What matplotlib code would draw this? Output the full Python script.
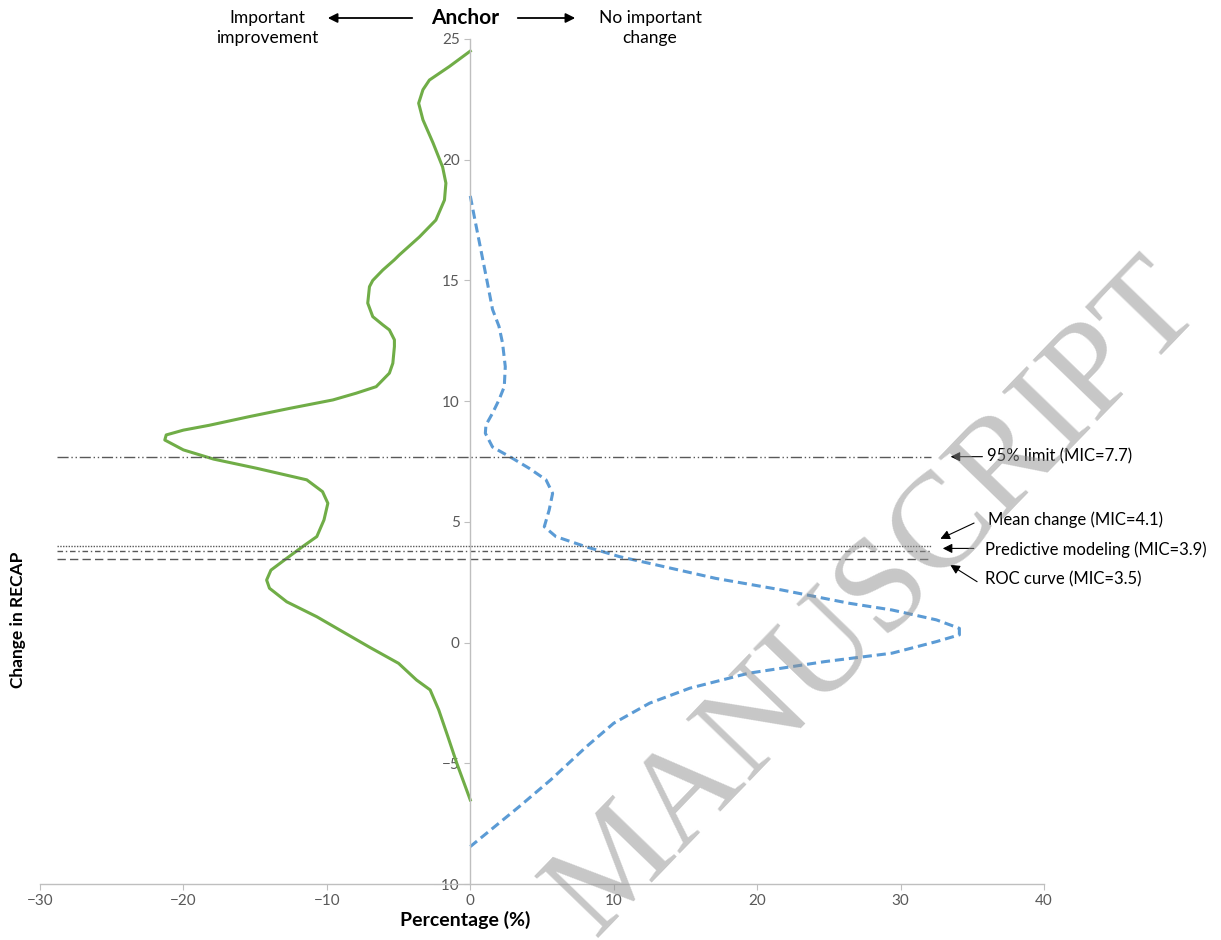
import matplotlib
matplotlib.use('Agg')
import matplotlib.pyplot as plt

plt.rcParams['font.family'] = ['Lato', 'DejaVu Sans']

# 曲线数据 (x = 百分比, y = RECAP 变化)
green_x = [0, -1.46, -2.85, -3.3, -3.6, -3.3, -2.6, -1.93, -1.7, -1.8, -2.4, -3.55, -4.94,
           -5.3, -6.1, -6.8, -7.03, -7.15, -6.8, -6.1, -5.64, -5.29, -5.29, -5.4, -5.64, -6.56,
           -7.95, -9.58, -12.6, -15.4, -18.2, -20.0, -21.2, -21.3, -20.0, -17.9, -14.9, -11.4,
           -10.3, -9.93, -10.2, -10.7, -11.7, -12.8, -13.9, -14.2, -14.0, -12.8, -10.7, -9.1,
           -7.0, -5.0, -3.75, -2.8, -2.2, -1.56, -0.94, 0]
green_y = [24.5, 23.86, 23.3, 22.9, 22.34, 21.65, 20.7, 19.7, 19.03, 18.33, 17.5, 16.8, 16.06,
           15.85, 15.43, 15.0, 14.74, 14.06, 13.5, 13.16, 12.95, 12.54, 12.26, 11.57, 11.16, 10.6,
           10.33, 10.05, 9.7, 9.36, 9.0, 8.8, 8.6, 8.39, 7.98, 7.6, 7.22, 6.74,
           6.25, 5.77, 5.08, 4.39, 3.97, 3.49, 3.0, 2.59, 2.25, 1.69, 1.07, 0.52,
           -0.2, -0.86, -1.55, -1.96, -2.79, -3.9, -5.0, -6.52]

blue_x = [0, 0.28, 0.74, 1.2, 1.55, 2.0, 2.25, 2.44, 2.37, 2.0, 1.55, 1.09, 1.05, 1.55, 2.95,
          4.1, 5.28, 5.74, 5.5, 5.16, 5.97, 8.06, 10.4, 12.5, 17.1, 21.7, 26.4, 29.4, 32.5,
          34.1, 34.1, 32.5, 29.4, 24.7, 19.4, 15.3, 12.5, 10.0, 8.1, 5.6, 3.4, 0]
blue_y = [18.5, 17.64, 16.26, 14.88, 13.8, 13.1, 12.4, 11.43, 10.6, 10.05, 9.5, 9.01, 8.67, 8.1, 7.63,
          7.22, 6.74, 6.18, 5.49, 4.8, 4.39, 3.97, 3.56, 3.28, 2.66, 2.18, 1.63, 1.35, 0.94,
          0.59, 0.32, 0.04, -0.44, -0.79, -1.27, -1.89, -2.51, -3.34, -4.31, -5.69, -6.8, -8.45]

# MIC 参考线
mic_labels = ['95% limit (MIC=7.7)', 'Mean change (MIC=4.1)',
              'Predictive modeling (MIC=3.9)', 'ROC curve (MIC=3.5)']
mic_y = [7.7, 4.0, 3.78, 3.45]
mic_styles = [(0, (8, 2, 1, 2, 1, 2)), (0, (1, 1)), (0, (4, 2, 1, 2)), (0, (6, 3))]
mic_text_y = [7.7, 5.08, 3.84, 2.6]
mic_text_x = [36.0, 36.1, 35.9, 35.9]
mic_arrow_tail = [(35.9, 7.7), (35.3, 5.0), (35.3, 3.9), (35.5, 2.46)]
mic_arrow_head = [(33.3, 7.7), (32.6, 4.25), (32.75, 3.9), (33.3, 3.28)]

fig = plt.figure(figsize=(12.21, 9.40), dpi=100)
ax = fig.add_axes([40 / 1221, 1 - 884 / 940, (1044 - 40) / 1221, (884 - 39) / 940])

ax.plot(green_x, green_y, color='#70AD47', lw=2.2, solid_joinstyle='round')
ax.plot(blue_x, blue_y, color='#5B9BD5', lw=2.2, linestyle=(0, (3, 1.6)))

for y, ls in zip(mic_y, mic_styles):
    ax.plot([-28.8, 32.1], [y, y], color='#595959', lw=1.0, linestyle=ls)

for lab, tx, ty, tail, head in zip(mic_labels, mic_text_x, mic_text_y, mic_arrow_tail, mic_arrow_head):
    ax.text(tx, ty, lab, fontsize=12, va='center', ha='left', color='black', clip_on=False)
    ax.annotate('', xy=head, xytext=tail, annotation_clip=False,
                arrowprops=dict(arrowstyle='-|>', color='black', lw=0.8, mutation_scale=14))

ax.set_xlim(-30, 40)
ax.set_ylim(-10, 25)
ax.set_xticks(range(-30, 41, 10))
ax.set_yticks(range(-10, 26, 5))

ax.spines['left'].set_position(('data', 0))
ax.spines['top'].set_visible(False)
ax.spines['right'].set_visible(False)
for s in ['left', 'bottom']:
    ax.spines[s].set_color('#BFBFBF')
    ax.spines[s].set_linewidth(1.0)
ax.tick_params(axis='both', colors='#BFBFBF', labelcolor='#595959', labelsize=11, length=4)

# 标题与轴标签
fig.text(465 / 1221, 1 - 920 / 940, 'Percentage (%)', fontsize=14, fontweight='bold',
         ha='center', va='center')
fig.text(18 / 1221, 1 - 620 / 940, 'Change in RECAP', fontsize=12.5, fontweight='bold',
         rotation=90, ha='center', va='center')
fig.text(465 / 1221, 1 - 18 / 940, 'Anchor', fontsize=15, fontweight='bold',
         ha='center', va='center')
fig.text(267 / 1221, 1 - 28 / 940, 'Important\nimprovement', fontsize=12.5,
         ha='center', va='center', linespacing=1.25)
fig.text(650 / 1221, 1 - 28 / 940, 'No important\nchange', fontsize=12.5,
         ha='center', va='center', linespacing=1.25)
ax.annotate('', xy=(325 / 1221, 1 - 18 / 940), xytext=(415 / 1221, 1 - 18 / 940),
            xycoords='figure fraction', textcoords='figure fraction',
            arrowprops=dict(arrowstyle='-|>', color='black', lw=1.3, mutation_scale=14))
ax.annotate('', xy=(578 / 1221, 1 - 18 / 940), xytext=(515 / 1221, 1 - 18 / 940),
            xycoords='figure fraction', textcoords='figure fraction',
            arrowprops=dict(arrowstyle='-|>', color='black', lw=1.3, mutation_scale=14))

# 水印（半透明）
fig.text(876 / 1221, 1 - 600 / 940, 'MANUSCRIPT', fontsize=98, family='Liberation Serif',
         color='#909090', alpha=0.5, rotation=46,
         ha='center', va='center', rotation_mode='anchor')

plt.savefig('out.png', dpi=100)
plt.close()
